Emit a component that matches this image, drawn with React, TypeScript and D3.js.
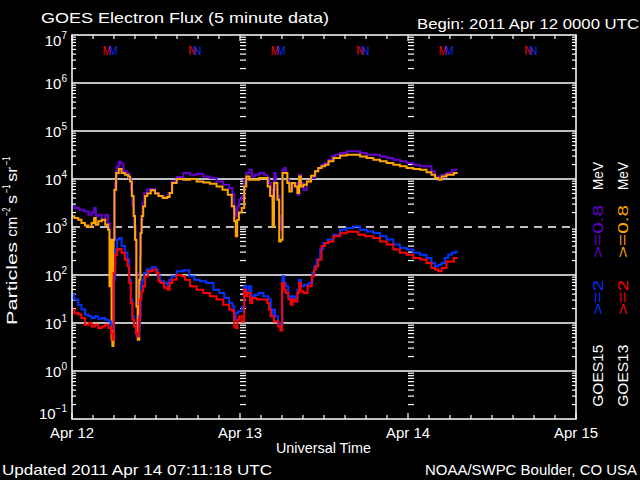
import React from 'react';
import * as d3 from 'd3';

const FONT = "'Liberation Sans', Arial, sans-serif";

// hours since 2011 Apr 12 00:00 UT, flux (particles cm^-2 s^-1 sr^-1)
const g15_08: [number, number][] = [[0,2700],[0.67,2500],[1.4,2300],[2.1,2100],[2.6,1800],[3.0,2000],[3.3,2500],[3.5,1700],[4.0,1800],[4.5,1400],[5.0,1800],[5.3,1200],[5.5,550],[5.7,50],[5.85,3.8],[6.05,540],[6.2,8300],[6.5,18000],[6.86,23000],[7.1,21000],[7.6,14500],[8.05,13000],[8.3,10500],[8.5,6000],[8.76,2700],[9.0,1030],[9.24,110],[9.43,5.3],[9.62,8.5],[9.8,245],[9.95,1400],[10.2,3200],[10.4,5100],[10.9,6000],[11.6,6200],[12.1,5100],[12.8,4400],[13.5,4000],[14.0,5100],[14.5,8900],[15.4,11000],[16.4,13300],[17.3,12300],[18.3,12800],[19.2,11300],[20.2,10500],[21.1,8900],[22.1,7600],[22.8,6500],[23.05,4800],[23.3,2400],[23.5,1700],[23.76,2700],[24.0,3700],[24.5,4400],[24.7,9700],[25.1,13300],[25.6,15600],[25.8,11300],[26.4,12300],[27.1,13300],[27.8,12300],[28.0,10500],[28.3,8300],[28.5,6000],[28.8,3700],[29.0,13300],[29.2,6000],[29.5,4400],[29.7,1700],[29.95,880],[30.2,15600],[30.4,17000],[30.7,13300],[30.9,9700],[31.1,6500],[31.4,6000],[31.6,8300],[32.1,8300],[32.3,4700],[32.6,12300],[32.8,8300],[33.3,6000],[33.8,8900],[34.5,10500],[34.95,14500],[35.4,17000],[35.9,19900],[36.4,21500],[36.9,25300],[37.3,29600],[37.8,32100],[38.8,34800],[39.7,37700],[40.7,37700],[41.6,34800],[42.6,32100],[43.5,32100],[44.5,29600],[45.4,27400],[46.4,25300],[47.3,23300],[48.3,21500],[49.2,19900],[50.2,18400],[51.1,18400],[51.6,14500],[52.1,11300],[52.6,10500],[53.0,12300],[54.0,13300],[54.5,15600],[55.1,15600]];

const g13_08: [number, number][] = [[0,1670],[0.67,1540],[1.1,1420],[1.6,1210],[2.1,1070],[2.6,1000],[3.0,1210],[3.3,1540],[3.5,1120],[4.0,1310],[4.5,1420],[5.0,1120],[5.3,880],[5.4,58],[5.6,540],[5.7,4.5],[5.85,3.3],[6.0,540],[6.1,6000],[6.5,13300],[6.86,16100],[7.3,13300],[7.8,12300],[8.2,11300],[8.4,8900],[8.7,4400],[8.9,1700],[9.1,540],[9.3,22],[9.5,4.5],[9.7,80],[9.86,750],[10.05,1700],[10.3,2700],[10.6,4400],[10.9,5000],[11.6,5800],[12.1,5000],[12.6,4400],[13.3,4000],[13.8,4200],[14.1,5100],[14.5,8300],[15.4,10000],[16.4,9700],[17.3,10000],[18.3,8900],[19.2,8500],[20.2,8000],[21.1,7000],[21.9,6000],[22.6,4700],[23.05,2700],[23.3,1310],[23.5,640],[23.7,1420],[24.0,2000],[24.5,2500],[24.7,7000],[25.1,11300],[25.6,9700],[26.4,9700],[27.1,10500],[27.8,10500],[28.1,7000],[28.5,4400],[28.8,1000],[28.9,8300],[29.2,8300],[29.5,3700],[29.7,500],[29.95,540],[30.2,13300],[30.6,13300],[30.9,8300],[31.2,5500],[31.6,8300],[32.1,7000],[32.3,5100],[32.6,11300],[32.8,7000],[33.3,7600],[33.8,8900],[34.5,11700],[34.95,14500],[35.4,17000],[35.9,18400],[36.4,19900],[36.9,23300],[37.8,27400],[38.8,31000],[39.7,32100],[40.7,32100],[41.6,29600],[42.6,27400],[43.5,25300],[44.5,23300],[45.4,21500],[46.4,19900],[47.3,18400],[48.3,17000],[49.2,16100],[50.2,15600],[51.1,13800],[51.6,12300],[52.1,10500],[52.6,9700],[53.0,11300],[54.0,12300],[55.1,13300]];

const g15_2: [number, number][] = [[0,39],[0.67,31],[1.1,24],[1.6,19],[2.1,15],[2.6,13.8],[3.0,12.7],[3.5,13.8],[4.0,12.2],[4.5,12.7],[5.0,11.7],[5.4,10.8],[5.7,9.2],[5.85,7.3],[6.05,80],[6.3,340],[6.6,550],[6.86,590],[7.3,400],[7.8,290],[8.05,210],[8.3,80],[8.5,31],[8.76,13.8],[9.0,8.5],[9.24,5.8],[9.5,5.3],[9.7,13.8],[9.95,58],[10.2,80],[10.4,110],[10.9,130],[11.9,145],[12.1,130],[12.4,94],[12.8,74],[13.5,68],[13.8,58],[14.0,80],[14.5,94],[15.4,120],[16.4,125],[17.1,94],[17.8,80],[18.7,74],[19.7,68],[20.7,49],[21.4,42],[22.1,33],[22.8,26],[23.05,22],[23.3,11.7],[23.5,16],[24.0,17.5],[24.5,22],[24.7,58],[25.1,46],[25.4,58],[25.8,36],[26.4,39],[26.9,42],[27.8,36],[28.3,31],[28.5,13.8],[28.8,19],[29.2,13.8],[29.7,10],[29.95,9.2],[30.2,94],[30.4,68],[30.7,58],[31.1,36],[31.4,26],[31.6,36],[32.1,31],[32.3,49],[32.6,80],[32.8,58],[33.5,63],[34.2,68],[34.5,110],[34.7,152],[35.2,210],[35.7,340],[36.1,465],[36.9,550],[37.8,690],[38.8,880],[39.7,950],[40.7,1030],[41.6,880],[42.6,810],[43.5,750],[44.5,640],[45.4,550],[46.4,430],[47.3,365],[48.3,340],[49.2,290],[50.2,265],[51.1,225],[51.6,178],[52.1,152],[52.6,164],[53.0,178],[53.5,225],[54.0,265],[54.5,290],[55.1,310]];

const g13_2: [number, number][] = [[0,19],[0.67,16],[1.1,15],[1.6,12.7],[2.1,9.2],[2.6,10],[3.0,8.5],[3.5,9.2],[4.0,7.9],[4.5,8.5],[5.0,9.2],[5.4,7.9],[5.7,6.2],[5.85,4.5],[6.05,110],[6.3,265],[6.6,340],[6.86,350],[7.3,290],[7.8,210],[8.05,152],[8.3,68],[8.5,26],[8.76,11.7],[9.0,8.5],[9.24,6.2],[9.43,5.3],[9.62,11.7],[9.8,31],[10.05,46],[10.3,58],[10.6,94],[11.1,120],[11.9,130],[12.2,110],[12.5,74],[12.8,68],[13.5,54],[13.8,49],[14.1,68],[14.5,80],[15.4,100],[15.9,94],[16.4,80],[17.3,58],[18.3,49],[19.2,42],[20.2,36],[21.1,31],[22.1,24],[22.8,19],[23.05,17.5],[23.3,8.5],[23.5,7.9],[23.76,11.7],[24.0,13.8],[24.5,10.8],[24.7,49],[24.95,36],[25.2,42],[25.7,26],[25.8,33],[26.9,31],[27.8,31],[28.0,26],[28.3,19],[28.5,13.8],[29.2,10.8],[29.7,8.5],[29.8,7.0],[30.2,68],[30.4,49],[30.7,42],[31.1,31],[31.4,24],[31.6,31],[32.1,28],[32.3,42],[32.6,68],[32.8,46],[33.3,42],[34.0,58],[34.5,94],[34.7,130],[34.95,152],[35.4,210],[35.9,400],[36.4,465],[36.9,500],[37.8,640],[38.8,740],[39.7,800],[40.7,800],[41.1,690],[42.6,640],[43.5,590],[44.5,500],[45.4,430],[46.4,340],[47.3,290],[48.3,265],[49.2,225],[50.2,210],[51.1,178],[51.6,140],[52.1,130],[52.6,120],[53.0,140],[54.0,190],[55.1,225]];

const dayHours = [0, 24, 48, 72];
const dayLabels = ['Apr 12', 'Apr 13', 'Apr 14', 'Apr 15'];
const decadeExponents = [-1, 0, 1, 2, 3, 4, 5, 6, 7];
const g13Midnight = [5.0, 29.0, 53.0];
const g15Midnight = [5.9, 29.9, 53.9];
const g13Noon = [17.2, 41.2, 65.2];
const g15Noon = [17.9, 41.9, 65.9];

const C_PURPLE = '#6600cc';
const C_ORANGE = '#ffa500';
const C_BLUE = '#0033ff';
const C_RED = '#ff0000';

function T(props: any) {
  const { children, len, ...rest } = props;
  return (
    <text fontFamily={FONT} fontSize={15} fill="#fff" textLength={len} lengthAdjust="spacingAndGlyphs" {...rest}>
      {children}
    </text>
  );
}

export default function App() {
  const x = d3.scaleLinear().domain([0, 72]).range([72, 576]);
  const y = d3.scaleLog().domain([0.1, 1e7]).range([419, 35]);
  const line = d3.line<[number, number]>().x(d => x(d[0])).y(d => y(d[1])).curve(d3.curveStep);
  const [x0, x1] = x.range();
  const [yb, yt] = y.range();

  const minor: number[] = [];
  for (let k = -1; k < 7; k++) for (let m = 2; m <= 9; m++) minor.push(m * Math.pow(10, k));
  const timeTicks = d3.range(0, 73, 3);

  const legendCol = (bx: number, sat: string, c2: string, c08: string) => (
    <g>
      <T len={62} transform={`translate(${bx},406.7) rotate(-90)`}>{sat}</T>
      <T len={35} fill={c2} transform={`translate(${bx},315) rotate(-90)`}>{'>=2'}</T>
      <T len={53} fill={c08} transform={`translate(${bx},258) rotate(-90)`}>{'>=0.8'}</T>
      <T len={28} transform={`translate(${bx},190) rotate(-90)`}>MeV</T>
    </g>
  );

  const marker = (hrs: number[], ch: string, col: string) =>
    hrs.map((h, i) => (
      <text key={ch + col + i} x={x(h)} y={55} textAnchor="middle" fontFamily={FONT} fontSize={12.5} fill={col} textLength={8.5} lengthAdjust="spacingAndGlyphs">{ch}</text>
    ));

  return (
    <svg width={640} height={480} style={{ position: 'absolute', left: 0, top: 0, display: 'block' }}>
      <rect x={0} y={0} width={640} height={480} fill="#000" />

      {/* gridlines */}
      {decadeExponents.filter(e => e > -1 && e < 7).map(e => (
        <line key={'g' + e} x1={x0} x2={x1} y1={y(Math.pow(10, e))} y2={y(Math.pow(10, e))} stroke="#fff" strokeWidth={1.5}
          strokeDasharray={e === 3 ? '8,6' : undefined} />
      ))}

      {/* minor y ticks on axes and at day boundaries */}
      {minor.map((v, i) => (
        <g key={'m' + i}>
          <line x1={x0} x2={x0 + 4} y1={y(v)} y2={y(v)} stroke="#fff" strokeWidth={1.2} />
          <line x1={x1} x2={x1 - 4} y1={y(v)} y2={y(v)} stroke="#fff" strokeWidth={1.2} />
          {[24, 48].map(h => (
            <line key={h} x1={x(h)} x2={x(h) + 6} y1={y(v)} y2={y(v)} stroke="#fff" strokeWidth={1.2} />
          ))}
        </g>
      ))}

      {/* time ticks */}
      {timeTicks.map(h => {
        const len = h % 24 === 0 ? 6 : 4;
        return (
          <g key={'t' + h}>
            <line x1={x(h)} x2={x(h)} y1={yt} y2={yt + len} stroke="#fff" strokeWidth={1.2} />
            <line x1={x(h)} x2={x(h)} y1={yb} y2={yb - len} stroke="#fff" strokeWidth={1.2} />
          </g>
        );
      })}

      {/* data */}
      <path d={line(g15_08) || ''} fill="none" stroke={C_PURPLE} strokeWidth={2} />
      <path d={line(g13_08) || ''} fill="none" stroke={C_ORANGE} strokeWidth={2} />
      <path d={line(g15_2) || ''} fill="none" stroke={C_BLUE} strokeWidth={2} />
      <path d={line(g13_2) || ''} fill="none" stroke={C_RED} strokeWidth={2} />

      {/* frame */}
      <rect x={x0} y={yt} width={x1 - x0} height={yb - yt} fill="none" stroke="#fff" strokeWidth={1.5} />

      {/* M / N markers */}
      {marker(g13Midnight, 'M', C_RED)}
      {marker(g15Midnight, 'M', C_BLUE)}
      {marker(g13Noon, 'N', C_RED)}
      {marker(g15Noon, 'N', C_BLUE)}

      {/* y tick labels */}
      {decadeExponents.map(e => {
        let yy = y(Math.pow(10, e));
        if (e === 7) yy += 5.5;
        if (e === -1) yy -= 5.5;
        return (
          <text key={'yl' + e} x={67} y={yy + 5.5} textAnchor="end" fontFamily={FONT} fontSize={15} fill="#fff">
            10<tspan fontSize={10} dy={-7}>{String(e).replace('-', '\u2212')}</tspan>
          </text>
        );
      })}

      {/* x labels */}
      {dayHours.map((h, i) => (
        <T key={'xl' + h} x={x(h)} y={438} textAnchor="middle" len={44}>{dayLabels[i]}</T>
      ))}
      <T x={276} y={453} len={95}>Universal Time</T>

      {/* y axis title */}
      <g transform="translate(16.7,325) rotate(-90)">
        <T x={0} y={0} len={83}>Particles</T>
        <T x={88.3} y={0} len={20}>cm</T>
        <T x={109} y={-7} len={8.5} fontSize={10}>{'\u22122'}</T>
        <T x={121} y={0} len={9}>s</T>
        <T x={132} y={-7} len={8.5} fontSize={10}>{'\u22121'}</T>
        <T x={143.3} y={0} len={15}>sr</T>
        <T x={160} y={-7} len={8.5} fontSize={10}>{'\u22121'}</T>
      </g>

      {/* titles */}
      <T x={41} y={23.3} len={288}>GOES Electron Flux (5 minute data)</T>
      <T x={417} y={29} len={222}>Begin: 2011 Apr 12 0000 UTC</T>
      <T x={2} y={475} len={270}>Updated 2011 Apr 14 07:11:18 UTC</T>
      <T x={425} y={475} len={212}>NOAA/SWPC Boulder, CO USA</T>

      {/* legend */}
      {legendCol(603, 'GOES15', C_BLUE, C_PURPLE)}
      {legendCol(628, 'GOES13', C_RED, C_ORANGE)}
    </svg>
  );
}
